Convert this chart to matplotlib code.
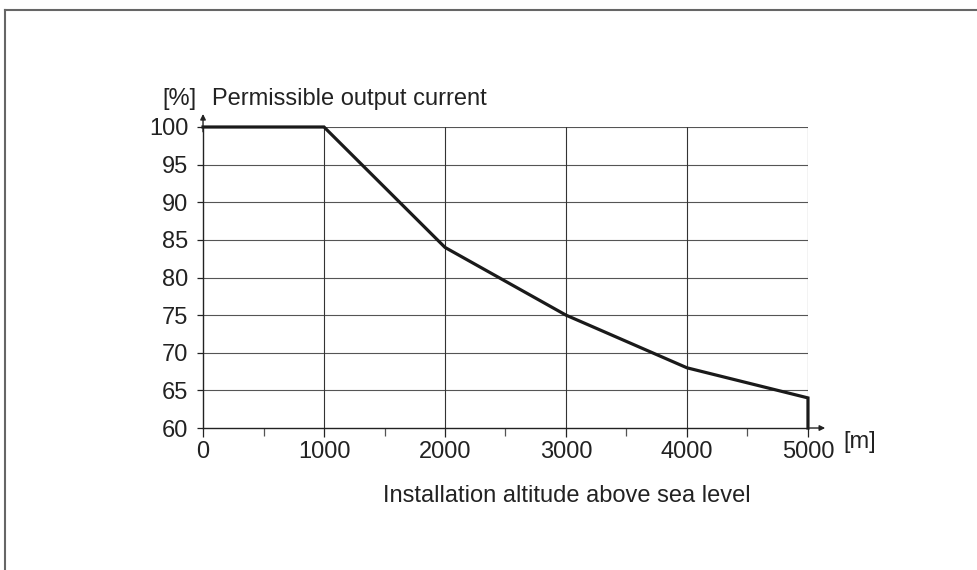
import matplotlib
matplotlib.use("Agg")
import matplotlib.pyplot as plt
from matplotlib.lines import Line2D

plt.rcParams['font.family'] = ['Liberation Sans', 'DejaVu Sans']

# derating curve
altitude = [0, 1000, 2000, 3000, 4000, 5000, 5000]
current = [100, 100, 84, 75, 68, 64, 60]

x_ticks = [0, 1000, 2000, 3000, 4000, 5000]
x_minor = [500, 1500, 2500, 3500, 4500]
y_ticks = [60, 65, 70, 75, 80, 85, 90, 95, 100]

FS = 17
TXT = '#222222'

fig = plt.figure(figsize=(9.77, 5.70), dpi=100)
ax = fig.add_axes([0.2078, 0.2491, 0.6192, 0.5281])

# outer frame (only top and left edges visible)
fig.add_artist(Line2D([0.005, 0.005], [0.0, 0.983], transform=fig.transFigure, color='#666666', lw=1.5))
fig.add_artist(Line2D([0.005, 1.0], [0.983, 0.983], transform=fig.transFigure, color='#666666', lw=1.5))

ax.set_xlim(0, 5000)
ax.set_ylim(60, 100)

for y in y_ticks[1:]:
    ax.axhline(y, color='#555555', lw=0.8, zorder=1)
for x in x_ticks[1:]:
    ax.axvline(x, color='#333333', lw=0.8, zorder=1)

ax.plot(altitude, current, color='#1a1a1a', lw=2.3, solid_joinstyle='miter', zorder=3, clip_on=False)

for s in ['top', 'right']:
    ax.spines[s].set_visible(False)
for s in ['left', 'bottom']:
    ax.spines[s].set_color('#222222')
    ax.spines[s].set_linewidth(1.0)

# axis arrows
ax.annotate('', xy=(0, 102.1), xytext=(0, 99), xycoords='data',
            arrowprops=dict(arrowstyle='-|>', color='#222222', lw=1.0, mutation_scale=8),
            annotation_clip=False)
ax.annotate('', xy=(5165, 60), xytext=(4990, 60), xycoords='data',
            arrowprops=dict(arrowstyle='-|>', color='#222222', lw=1.0, mutation_scale=8),
            annotation_clip=False)

ax.set_xticks(x_ticks)
ax.set_xticks(x_minor, minor=True)
ax.set_yticks(y_ticks)
ax.tick_params(axis='both', which='major', labelsize=FS, labelcolor=TXT, color='#222222', width=0.9, direction='out')
ax.tick_params(axis='x', which='major', length=6.5, pad=2.5)
ax.tick_params(axis='x', which='minor', length=6, width=0.9, color='#555555', direction='out')
ax.tick_params(axis='y', which='major', length=4.5, pad=6)

fig.text(0.1658, 0.8158, '[%]', fontsize=FS, ha='left', va='baseline', color=TXT)
fig.text(0.217, 0.8158, 'Permissible output current', fontsize=FS, ha='left', va='baseline', color=TXT)
fig.text(0.8628, 0.214, '[m]', fontsize=FS, ha='left', va='baseline', color=TXT)
fig.text(0.580, 0.1193, 'Installation altitude above sea level', fontsize=FS, ha='center', va='baseline', color=TXT)

fig.savefig('out.png', dpi=100)
